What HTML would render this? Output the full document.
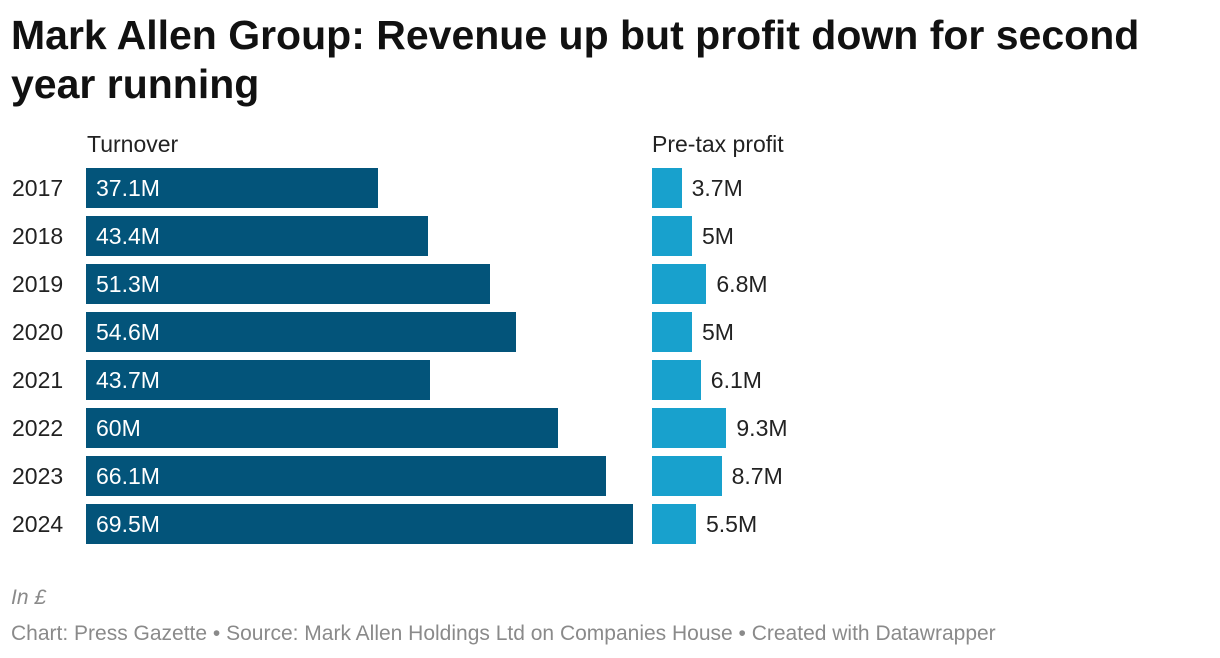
<!DOCTYPE html>
<html><head><meta charset="utf-8"><style>
body{margin:0;width:1220px;height:658px;background:#fff;font-family:"Liberation Sans",sans-serif;overflow:hidden;position:relative}
h1{position:absolute;left:11px;top:11px;margin:0;font-size:41px;line-height:49px;font-weight:bold;color:#111;width:1160px}
.t{position:absolute;font-size:23px;color:#222;white-space:nowrap}
.f{position:absolute;font-size:21px;color:#8a8a8a;white-space:nowrap}
</style></head><body>
<h1>Mark Allen Group: Revenue up but profit down for second year running</h1>
<div class="t" style="left:87px;top:131px">Turnover</div>
<div class="t" style="left:652px;top:131px">Pre-tax profit</div>
<div id="chart"></div>
<div class="f" style="left:11px;top:586px;font-style:italic">In £</div>
<div class="f" style="left:11px;top:622px">Chart: Press Gazette • Source: Mark Allen Holdings Ltd on Companies House • Created with Datawrapper</div>
<script>
const years=["2017","2018","2019","2020","2021","2022","2023","2024"];
const turnover=[37.1,43.4,51.3,54.6,43.7,60,66.1,69.5];
const profit=[3.7,5,6.8,5,6.1,9.3,8.7,5.5];
const tX=v=>v*7.87, pX=v=>v*8.0;
const c=document.getElementById('chart');
years.forEach((y,i)=>{
  const top=168+i*48;
  const yl=document.createElement('div');yl.className='t';
  
  
  yl.style.cssText=`left:12px;top:${top+7}px`;yl.textContent=y;c.appendChild(yl);
  const b=document.createElement('div');
  
  
  b.style.cssText=`position:absolute;left:86px;top:${top}px;height:40px;width:${tX(turnover[i])}px;background:#03547a;color:#fff;font-size:23px;line-height:40px;padding-left:10px;box-sizing:border-box;white-space:nowrap`;
  b.textContent=turnover[i]+'M';c.appendChild(b);
  const p=document.createElement('div');
  
  
  const w=pX(profit[i]);
  p.style.cssText=`position:absolute;left:652px;top:${top}px;height:40px;width:${w}px;background:#18a1cd`;c.appendChild(p);
  const l=document.createElement('div');l.className='t';
  
  
  l.style.cssText=`left:${652+w+10}px;top:${top+7}px`;l.textContent=profit[i]+'M';c.appendChild(l);
});
</script>
</body></html>
